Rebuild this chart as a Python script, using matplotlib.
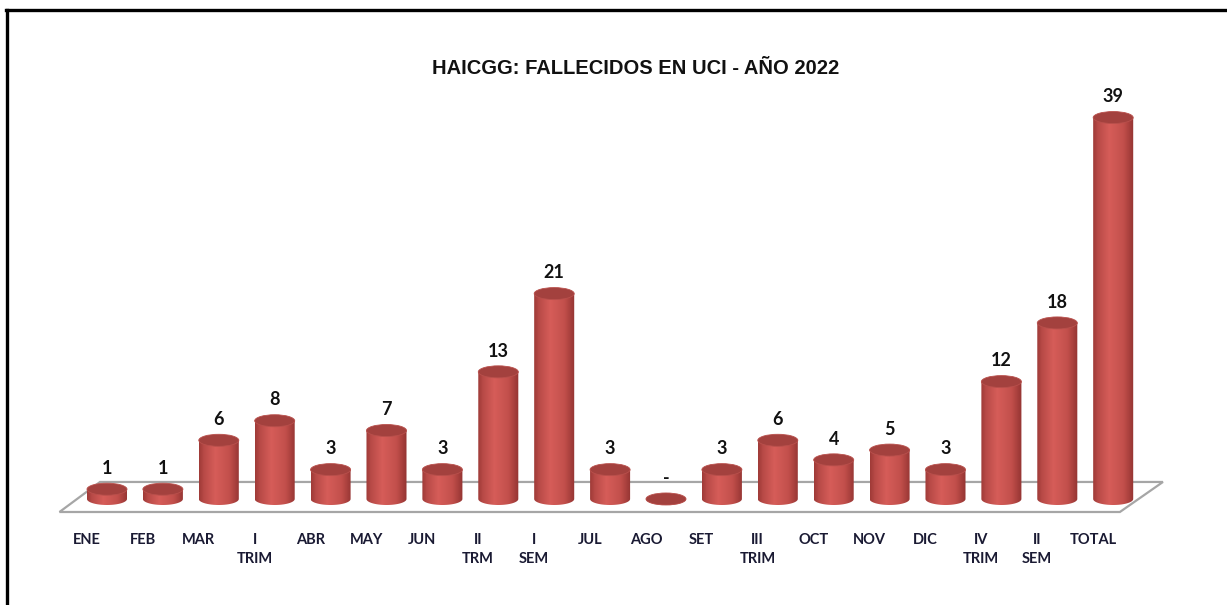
import matplotlib
matplotlib.use("Agg")
import matplotlib.pyplot as plt
import numpy as np
from matplotlib.patches import Ellipse, Polygon, PathPatch
from matplotlib.path import Path
from matplotlib.colors import LinearSegmentedColormap
from matplotlib.lines import Line2D
from matplotlib import font_manager

# data
categories = ["ENE", "FEB", "MAR", "I\nTRIM", "ABR", "MAY", "JUN", "II\nTRM", "I\nSEM",
              "JUL", "AGO", "SET", "III\nTRIM", "OCT", "NOV", "DIC", "IV\nTRIM", "II\nSEM", "TOTAL"]
values = [1, 1, 6, 8, 3, 7, 3, 13, 21, 3, 0, 3, 6, 4, 5, 3, 12, 18, 39]
title = "HAICGG: FALLECIDOS EN UCI - AÑO 2022"

installed = {f.name for f in font_manager.fontManager.ttflist}
title_font = ["Liberation Sans Narrow", "DejaVu Sans"] if "Liberation Sans Narrow" in installed else ["Liberation Sans", "DejaVu Sans"]
label_font = ["Lato", "DejaVu Sans"]

fig = plt.figure(figsize=(12.27, 6.05), dpi=100)
ax = fig.add_axes([0, 0, 1, 1])
ax.set_xlim(-1.914, 20.036)
ax.set_ylim(-10.84, 51.02)
ax.axis("off")

n = len(values)
bar_w = 0.716
ell_h = 1.23

# floor of the 3d chart
floor = Polygon([(-0.85, -1.33), (-0.125, 1.74), (n - 1 + 0.89, 1.74), (n - 1 + 0.12, -1.33)],
                closed=True, facecolor="white", edgecolor="#a6a6a6", linewidth=1.6, zorder=1)
ax.add_patch(floor)

cmap = LinearSegmentedColormap.from_list("cyl", [(0, "#9e3a37"), (0.12, "#b84a47"), (0.4, "#d65d59"),
                                                 (0.75, "#c24f4b"), (1, "#943432")])
grad = np.linspace(0, 1, 200).reshape(1, -1)

for i, v in enumerate(values):
    left, right = i - bar_w / 2, i + bar_w / 2
    t = np.linspace(np.pi, 2 * np.pi, 40)
    arc = np.column_stack([i + bar_w / 2 * np.cos(t), ell_h / 2 * np.sin(t)])
    verts = np.vstack([[left, v], [left, 0], arc, [right, 0], [right, v], [left, v]])
    body = PathPatch(Path(verts, closed=True), facecolor="none", edgecolor="none")
    ax.add_patch(body)
    im = ax.imshow(grad, cmap=cmap, aspect="auto", extent=[left, right, -ell_h / 2, v + ell_h / 2],
                   zorder=2, interpolation="bilinear")
    im.set_clip_path(body)
    ax.add_patch(Ellipse((i, v), bar_w, ell_h, facecolor="#a3413e", edgecolor="#b9504c",
                         linewidth=0.6, zorder=3))
    lab = "-" if v == 0 else str(v)
    ax.annotate(lab, (i, v), xytext=(0, 15), textcoords="offset points", ha="center", va="center",
                fontsize=13, fontweight="bold", family=label_font, color="#111111")
    ax.text(i - 0.36, -3.45, categories[i], ha="center", va="top", fontsize=10.5,
            fontweight="bold", family=label_font, color="#1a1a33", linespacing=1.45)

fig.text(636 / 1227, 1 - 68 / 605, title, ha="center", va="center", fontsize=14.5,
         fontweight="bold", family=title_font, color="#111111")

# outer frame (top and left edges only)
fig.add_artist(Line2D([6 / 1227, 1], [1 - 9.5 / 605, 1 - 9.5 / 605], color="black", linewidth=2.4))
fig.add_artist(Line2D([6.5 / 1227, 6.5 / 1227], [0, 1 - 9.5 / 605], color="black", linewidth=2.4))

fig.savefig("out.png", dpi=100, facecolor="white")
